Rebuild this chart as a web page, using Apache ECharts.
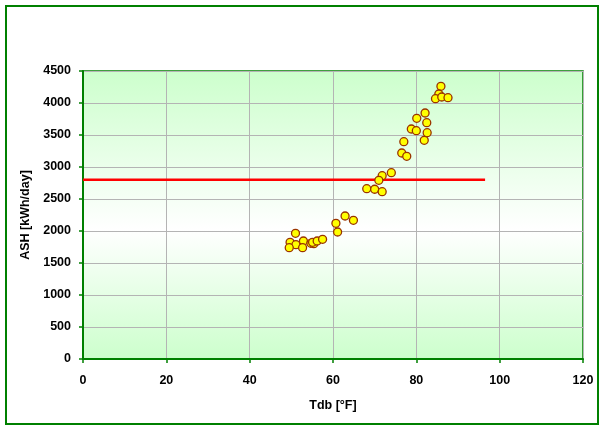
<!DOCTYPE html>
<html><head><meta charset="utf-8">
<script src="https://cdn.jsdelivr.net/npm/echarts@6/dist/echarts.min.js"></script>
<style>html,body{margin:0;padding:0;background:#fff}#c{width:600px;height:427px}</style>
</head><body><div id="c"></div>
<script>
var tdb = [85.9,85.4,84.6,86.1,87.6,82.1,80.1,82.5,78.8,80.0,82.6,77.0,81.9,76.5,77.7,74.0,71.8,71.0,68.1,70.0,71.8,62.9,64.9,60.7,61.1,51.0,49.7,52.9,51.1,49.5,52.7,54.7,55.4,55.1,56.2,57.5];
var ash = [4261,4141,4067,4094,4083,3844,3761,3692,3594,3567,3536,3395,3417,3219,3167,2911,2864,2792,2661,2652,2614,2234,2167,2120,1984,1964,1823,1844,1786,1739,1739,1808,1802,1823,1844,1870];
var refLineX = [0, 96.5];
var refLineY = [2800, 2800];
var xTicks = [0,20,40,60,80,100,120];
var yTicks = [0,500,1000,1500,2000,2500,3000,3500,4000,4500];

var pts = tdb.map(function(x,i){return [x, ash[i]];});
var linePts = refLineX.map(function(x,i){return [x, refLineY[i]];});
var chart = echarts.init(document.getElementById('c'), null, {renderer:'canvas'});
var lbl = {color:'#000', fontFamily:'Liberation Sans, Arial, sans-serif', fontWeight:'bold', fontSize:12.5};
chart.setOption({
  animation:false,
  backgroundColor:'#fff',
  graphic:[{type:'rect', shape:{x:6,y:6,width:592,height:418}, style:{fill:'none', stroke:'#008000', lineWidth:2}, z:-1}],
  grid:{left:83, right:17, top:71, bottom:68, show:true, borderColor:'#008000', borderWidth:1.5,
    backgroundColor:new echarts.graphic.LinearGradient(0,0,0,1,[{offset:0,color:'#ccffcc'},{offset:0.55,color:'#ffffff'},{offset:1,color:'#ccffcc'}])},
  xAxis:{type:'value', min:xTicks[0], max:xTicks[xTicks.length-1], interval:20,
    name:'Tdb [°F]', nameLocation:'middle', nameGap:40, nameTextStyle:lbl,
    axisLine:{show:true, onZero:false, lineStyle:{color:'#008000', width:2}},
    axisTick:{show:true, inside:false, length:4, lineStyle:{color:'#008000', width:1.5}},
    axisLabel:Object.assign({margin:15, formatter:function(v){return String(v);}},lbl),
    splitLine:{show:true, lineStyle:{color:'#b4b4b4', width:1}}},
  yAxis:{type:'value', min:yTicks[0], max:yTicks[yTicks.length-1], interval:500,
    name:'ASH [kWh/day]', nameLocation:'middle', nameGap:44, nameTextStyle:lbl,
    axisLine:{show:true, onZero:false, lineStyle:{color:'#008000', width:2}},
    axisTick:{show:true, inside:false, length:4, lineStyle:{color:'#008000', width:1.5}},
    axisLabel:Object.assign({margin:12, formatter:function(v){return String(v);}},lbl),
    splitLine:{show:true, lineStyle:{color:'#b4b4b4', width:1}}},
  series:[
    {type:'line', data:linePts, symbol:'none', lineStyle:{color:'#ff0000', width:2.5}, z:2},
    {type:'scatter', data:pts, symbol:'circle', symbolSize:8, itemStyle:{color:'#ffff00', borderColor:'#993300', borderWidth:1.3, opacity:1}, z:3}
  ]
});
</script></body></html>
